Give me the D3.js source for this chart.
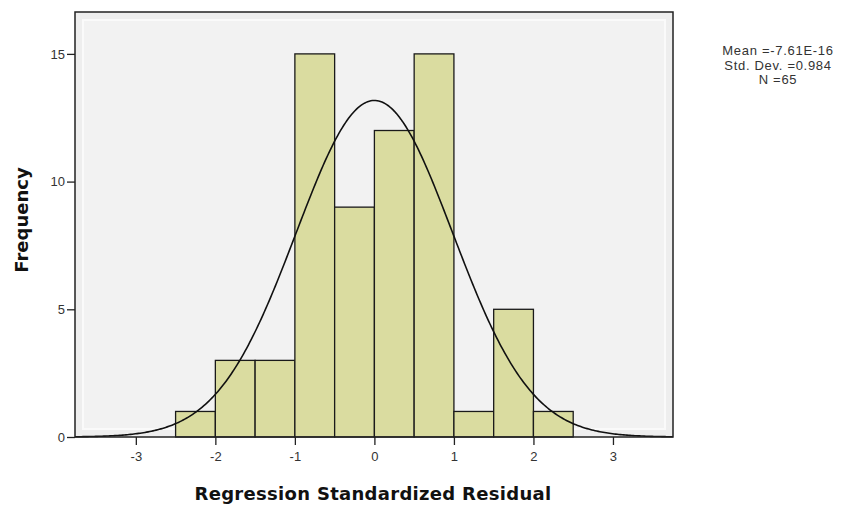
<!DOCTYPE html>
<html>
<head>
<meta charset="utf-8">
<script src="https://cdn.jsdelivr.net/npm/d3@7"></script>
<style>
  body { margin: 0; background: #fff; }
  svg text { font-family: "Liberation Sans", Arial, sans-serif; }
</style>
</head>
<body>
<svg id="chart" width="845" height="510"></svg>
<script>
// histogram bins (lower edge) and counts
var binStarts = [-2.5, -2, -1.5, -1, -0.5, 0, 0.5, 1, 1.5, 2]
var binWidth = 0.5
var counts = [1, 3, 3, 15, 9, 12, 15, 1, 5, 1]
var xTicks = [-3, -2, -1, 0, 1, 2, 3]
var yTicks = [0, 5, 10, 15]
var statLines = ['Mean =-7.61E-16', 'Std. Dev. =0.984', 'N =65']
var mean = -7.61e-16, sd = 0.984, n = 65

var svg = d3.select('#chart')
var pLeft = 75, pRight = 673, pTop = 12, pBottom = 437

var x = d3.scaleLinear().domain([-3.765, 3.755]).range([pLeft, pRight])
var y = d3.scaleLinear().domain([0, 16.64]).range([pBottom, pTop])

// plot background
svg.append('rect')
  .attr('x', pLeft).attr('y', pTop)
  .attr('width', pRight - pLeft).attr('height', pBottom - pTop)
  .attr('fill', '#eeeeee')
svg.append('rect')
  .attr('x', pLeft + 8).attr('y', pTop + 8)
  .attr('width', pRight - pLeft - 16).attr('height', pBottom - pTop - 16)
  .attr('fill', '#f2f2f2').attr('stroke', '#fafafa').attr('stroke-width', 2)

// bars
svg.selectAll('rect.bar')
  .data(counts)
  .enter().append('rect')
  .attr('class', 'bar')
  .attr('x', function (d, i) { return x(binStarts[i]) })
  .attr('width', function (d, i) { return x(binStarts[i] + binWidth) - x(binStarts[i]) })
  .attr('y', function (d) { return y(d) })
  .attr('height', function (d) { return pBottom - y(d) })
  .attr('fill', '#dadca0')
  .attr('stroke', '#1a1a1a')
  .attr('stroke-width', 1.3)

// normal curve scaled to the histogram
var curvePts = d3.range(-3.765, 3.76, 0.02).map(function (v) {
  var z = (v - mean) / sd
  return [v, n * binWidth * Math.exp(-0.5 * z * z) / (sd * Math.sqrt(2 * Math.PI))]
})
svg.append('path')
  .datum(curvePts)
  .attr('fill', 'none')
  .attr('stroke', '#111')
  .attr('stroke-width', 1.6)
  .attr('d', d3.line().x(function (d) { return x(d[0]) }).y(function (d) { return y(d[1]) }))

// frame
svg.append('rect')
  .attr('x', pLeft).attr('y', pTop)
  .attr('width', pRight - pLeft).attr('height', pBottom - pTop)
  .attr('fill', 'none').attr('stroke', '#222').attr('stroke-width', 1.5)

// axes, hyphen minus like the original
var fmt = function (d) { return String(d) }
var xAxis = svg.append('g')
  .attr('transform', 'translate(0,' + pBottom + ')')
  .call(d3.axisBottom(x).tickValues(xTicks).tickSize(8).tickPadding(7).tickFormat(fmt))
var yAxis = svg.append('g')
  .attr('transform', 'translate(' + pLeft + ',0)')
  .call(d3.axisLeft(y).tickValues(yTicks).tickSize(8).tickPadding(2).tickFormat(fmt))
;[xAxis, yAxis].forEach(function (a) {
  a.select('.domain').remove()
  a.selectAll('line').attr('stroke', '#222').attr('stroke-width', 1.3)
  a.selectAll('text').attr('fill', '#333').style('font-size', '13px')
})

// axis titles
svg.append('text')
  .attr('x', 373).attr('y', 500)
  .attr('text-anchor', 'middle')
  .style('font-family', '"DejaVu Sans", sans-serif')
  .style('font-size', '18px').style('font-weight', 'bold')
  .style('letter-spacing', '0.3px')
  .attr('fill', '#111')
  .text('Regression Standardized Residual')
svg.append('text')
  .attr('transform', 'translate(28,220) rotate(-90)')
  .attr('text-anchor', 'middle')
  .style('font-family', '"DejaVu Sans", sans-serif')
  .style('font-size', '18px').style('font-weight', 'bold')
  .attr('fill', '#111')
  .text('Frequency')

// stats text
svg.selectAll('text.stat')
  .data(statLines)
  .enter().append('text')
  .attr('class', 'stat')
  .attr('x', 778)
  .attr('y', function (d, i) { return 55 + i * 14.5 })
  .attr('text-anchor', 'middle')
  .style('font-size', '13px')
  .style('letter-spacing', '0.7px')
  .attr('fill', '#333')
  .text(function (d) { return d })
</script>
</body>
</html>
